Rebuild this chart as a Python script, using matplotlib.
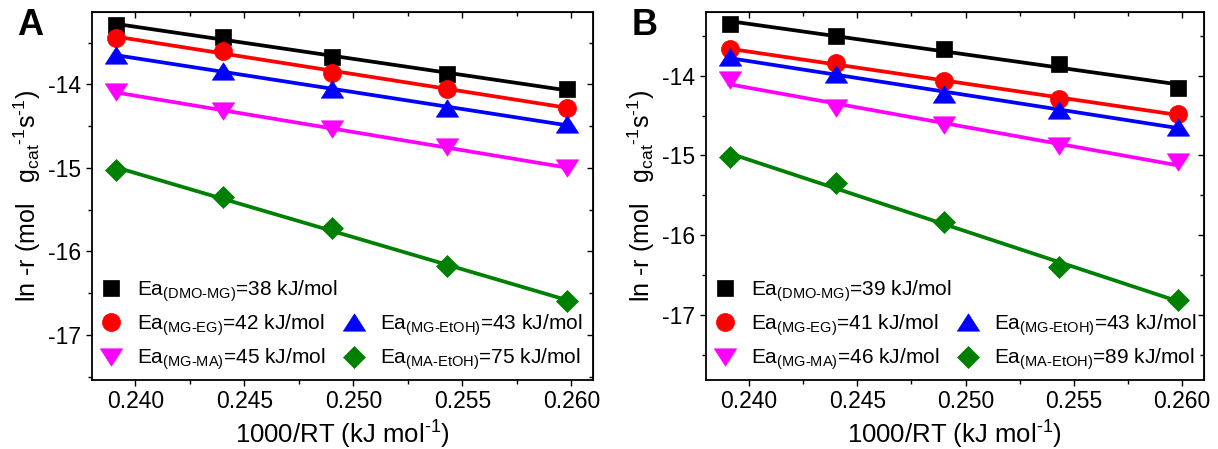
import numpy as np
import matplotlib
matplotlib.use("Agg")
import matplotlib.pyplot as plt
from matplotlib.ticker import MultipleLocator, FormatStrFormatter
from matplotlib.lines import Line2D

plt.rcParams["font.family"] = ["Liberation Sans", "DejaVu Sans"]
plt.rcParams["mathtext.fontset"] = "custom"
plt.rcParams["mathtext.rm"] = "Liberation Sans"
plt.rcParams["mathtext.it"] = "Liberation Sans:italic"
plt.rcParams["mathtext.bf"] = "Liberation Sans:bold"
plt.rcParams["axes.unicode_minus"] = False

# 1000/RT values (kJ mol^-1)
inv_rt = [0.2391, 0.2440, 0.2490, 0.2543, 0.2598]

# panel A: ln -r
a_dmo_mg = [-13.29, -13.43, -13.67, -13.88, -14.06]
a_mg_eg = [-13.44, -13.60, -13.86, -14.05, -14.28]
a_mg_etoh = [-13.65, -13.84, -14.06, -14.28, -14.48]
a_mg_ma = [-14.09, -14.32, -14.53, -14.75, -15.00]
a_ma_etoh = [-15.02, -15.35, -15.72, -16.18, -16.59]
a_ea = ["38", "42", "43", "45", "75"]

# panel B: ln -r
b_dmo_mg = [-13.35, -13.50, -13.67, -13.85, -14.16]
b_mg_eg = [-13.67, -13.84, -14.07, -14.29, -14.48]
b_mg_etoh = [-13.77, -13.98, -14.23, -14.43, -14.64]
b_mg_ma = [-14.05, -14.40, -14.62, -14.88, -15.08]
b_ma_etoh = [-15.02, -15.35, -15.83, -16.39, -16.81]
b_ea = ["39", "41", "43", "46", "89"]

reactions = ["DMO-MG", "MG-EG", "MG-EtOH", "MG-MA", "MA-EtOH"]

# wide, flat triangles like the original
tri_up = [(0, 0.78), (-1, -0.78), (1, -0.78), (0, 0.78)]
tri_dn = [(0, -0.78), (-1, 0.78), (1, 0.78), (0, -0.78)]
markers = ["s", "o", tri_up, tri_dn, "D"]
msizes = [11.5, 13, 16, 16, 11.5]
colors = ["black", "red", "blue", "magenta", "#008000"]

fig = plt.figure(figsize=(12.18, 4.49), dpi=100)
ax_a = fig.add_axes([0.0753, 0.1537, 0.4118, 0.8203])
ax_b = fig.add_axes([0.5794, 0.1537, 0.4089, 0.8203])

panels = [
    (ax_a, [a_dmo_mg, a_mg_eg, a_mg_etoh, a_mg_ma, a_ma_etoh], a_ea, (-17.54, -13.13), "A"),
    (ax_b, [b_dmo_mg, b_mg_eg, b_mg_etoh, b_mg_ma, b_ma_etoh], b_ea, (-17.81, -13.20), "B"),
]

x = np.array(inv_rt)
for ax, series, ea, ylim, letter in panels:
    handles = {}
    for ys, name, m, ms, c, e in zip(series, reactions, markers, msizes, colors, ea):
        # linear fit (Arrhenius)
        k, b = np.polyfit(x, ys, 1)
        xf = np.array([x[0], x[-1]])
        ax.plot(xf, k * xf + b, color=c, lw=2.7, zorder=2)
        (h,) = ax.plot(x, ys, ls="none", marker=m, ms=ms, color=c, mec=c, mew=0.5,
                       zorder=3, label=r"Ea$_{\text{(" + name + ")}}$=" + e + " kJ/mol")
        handles[name] = h
    blank = Line2D([], [], ls="none", marker=None, label=handles["MG-EG"].get_label())
    order = [handles["DMO-MG"], handles["MG-EG"], handles["MG-MA"],
             blank, handles["MG-EtOH"], handles["MA-EtOH"]]
    leg = ax.legend(handles=order, labels=[h.get_label() for h in order], ncol=2,
                    loc="lower left", bbox_to_anchor=(-0.008, -0.013), frameon=False,
                    fontsize=15, handlelength=1.0, handletextpad=0.75,
                    columnspacing=0.3, labelspacing=0.42, borderaxespad=0.2)
    leg.get_texts()[3].set_alpha(0)

    ax.set_xlim(0.238, 0.261)
    ax.set_ylim(*ylim)
    ax.xaxis.set_major_locator(MultipleLocator(0.005))
    ax.xaxis.set_minor_locator(MultipleLocator(0.0025))
    ax.xaxis.set_major_formatter(FormatStrFormatter("%.3f"))
    ax.yaxis.set_major_locator(MultipleLocator(1))
    ax.yaxis.set_minor_locator(MultipleLocator(0.5))
    ax.tick_params(which="both", direction="out", top=False, right=False,
                   labelsize=16.5, width=1.0, pad=3)
    ax.tick_params(which="major", length=4.5)
    ax.tick_params(which="minor", length=3)
    # mirrored inward ticks on top and right
    sec_x = ax.secondary_xaxis("top")
    sec_x.xaxis.set_major_locator(MultipleLocator(0.005))
    sec_x.xaxis.set_minor_locator(MultipleLocator(0.0025))
    sec_x.tick_params(which="both", direction="in", labeltop=False, width=1.0)
    sec_x.tick_params(which="major", length=4.5)
    sec_x.tick_params(which="minor", length=3)
    sec_y = ax.secondary_yaxis("right")
    sec_y.yaxis.set_major_locator(MultipleLocator(1))
    sec_y.yaxis.set_minor_locator(MultipleLocator(0.5))
    sec_y.tick_params(which="both", direction="in", labelright=False, width=1.0)
    sec_y.tick_params(which="major", length=4.5)
    sec_y.tick_params(which="minor", length=3)
    for sp in ax.spines.values():
        sp.set_linewidth(1.3)

    ax.set_xlabel(r"1000/RT (kJ mol$^{\text{-1}}$)", fontsize=18.5, labelpad=4)
    ax.set_ylabel(r"ln -r (mol   g$_{\text{cat}}$$^{\text{-1}}$s$^{\text{-1}}$)",
                  fontsize=18, labelpad=4)
    ax.text(-0.148, 0.962, letter, transform=ax.transAxes, fontsize=26,
            fontweight="bold", ha="left", va="center")

fig.savefig("out.png", dpi=100)
